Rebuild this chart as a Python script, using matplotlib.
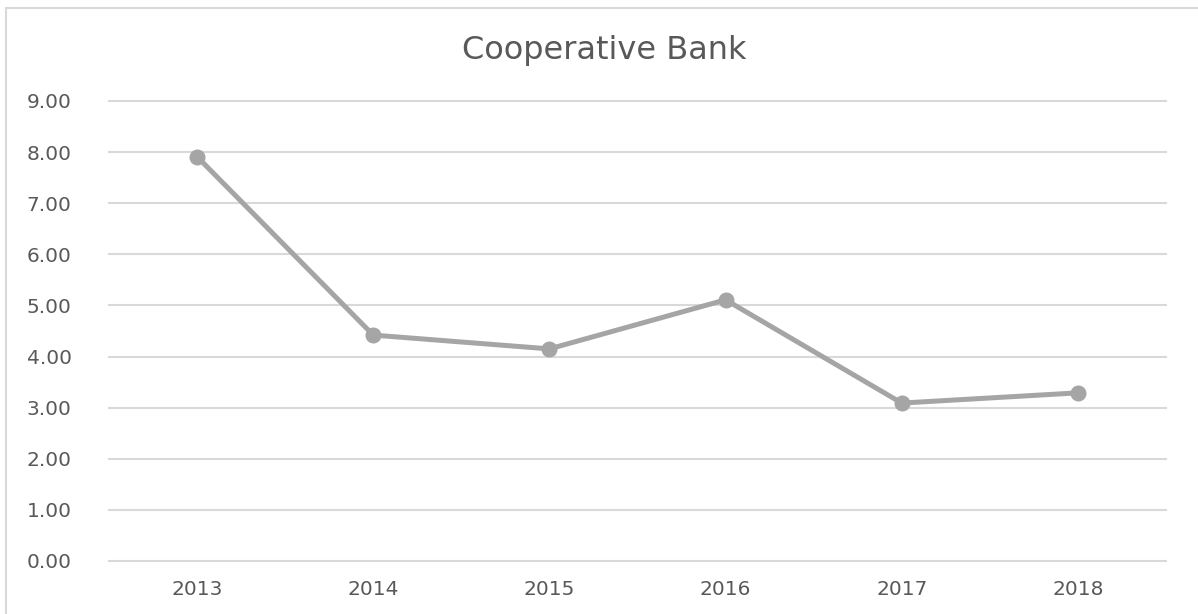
import matplotlib
matplotlib.use("Agg")
import matplotlib.pyplot as plt
from matplotlib.patches import Rectangle

years = ["2013", "2014", "2015", "2016", "2017", "2018"]
values = [7.91, 4.42, 4.15, 5.11, 3.09, 3.29]
y_ticks = [0, 1, 2, 3, 4, 5, 6, 7, 8, 9]
title = "Cooperative Bank"

W, H = 1198, 614
fig = plt.figure(figsize=(W / 100, H / 100), dpi=100)
fig.patch.set_facecolor("white")

# outer chart border (top and left visible)
fig.patches.append(Rectangle((6 / W, -0.05), 1.2, (1 - 8 / H) + 0.05,
                             transform=fig.transFigure, fill=False,
                             edgecolor="#D9D9D9", linewidth=1.5))

ax = fig.add_axes([109 / W, 1 - 561 / H, (1166 - 109) / W, (561 - 101) / H])
x = list(range(len(years)))
ax.plot(x, values, color="#A5A5A5", linewidth=3.6, marker="o",
        markersize=10.5, markerfacecolor="#A5A5A5", markeredgecolor="#A5A5A5",
        solid_capstyle="round", zorder=3)

ax.set_xlim(-0.5, len(years) - 0.5)
ax.set_ylim(0, 9)
ax.set_yticks(y_ticks)
ax.set_yticklabels([f"{v:.2f}" for v in y_ticks])
ax.set_xticks(x)
ax.set_xticklabels(years)
ax.grid(axis="y", color="#D9D9D9", linewidth=1.5)
for gl in ax.get_ygridlines():
    gl.set_clip_on(False)
ax.set_axisbelow(True)
for s in ax.spines.values():
    s.set_visible(False)
ax.tick_params(axis="y", length=0, pad=27, labelsize=14.5, labelcolor="#595959")
ax.tick_params(axis="x", length=0, pad=14, labelsize=14.5, labelcolor="#595959")

fig.text(604 / W, 1 - 50 / H, title, ha="center", va="center",
         fontsize=23, color="#595959")

fig.savefig("out.png", dpi=100)
